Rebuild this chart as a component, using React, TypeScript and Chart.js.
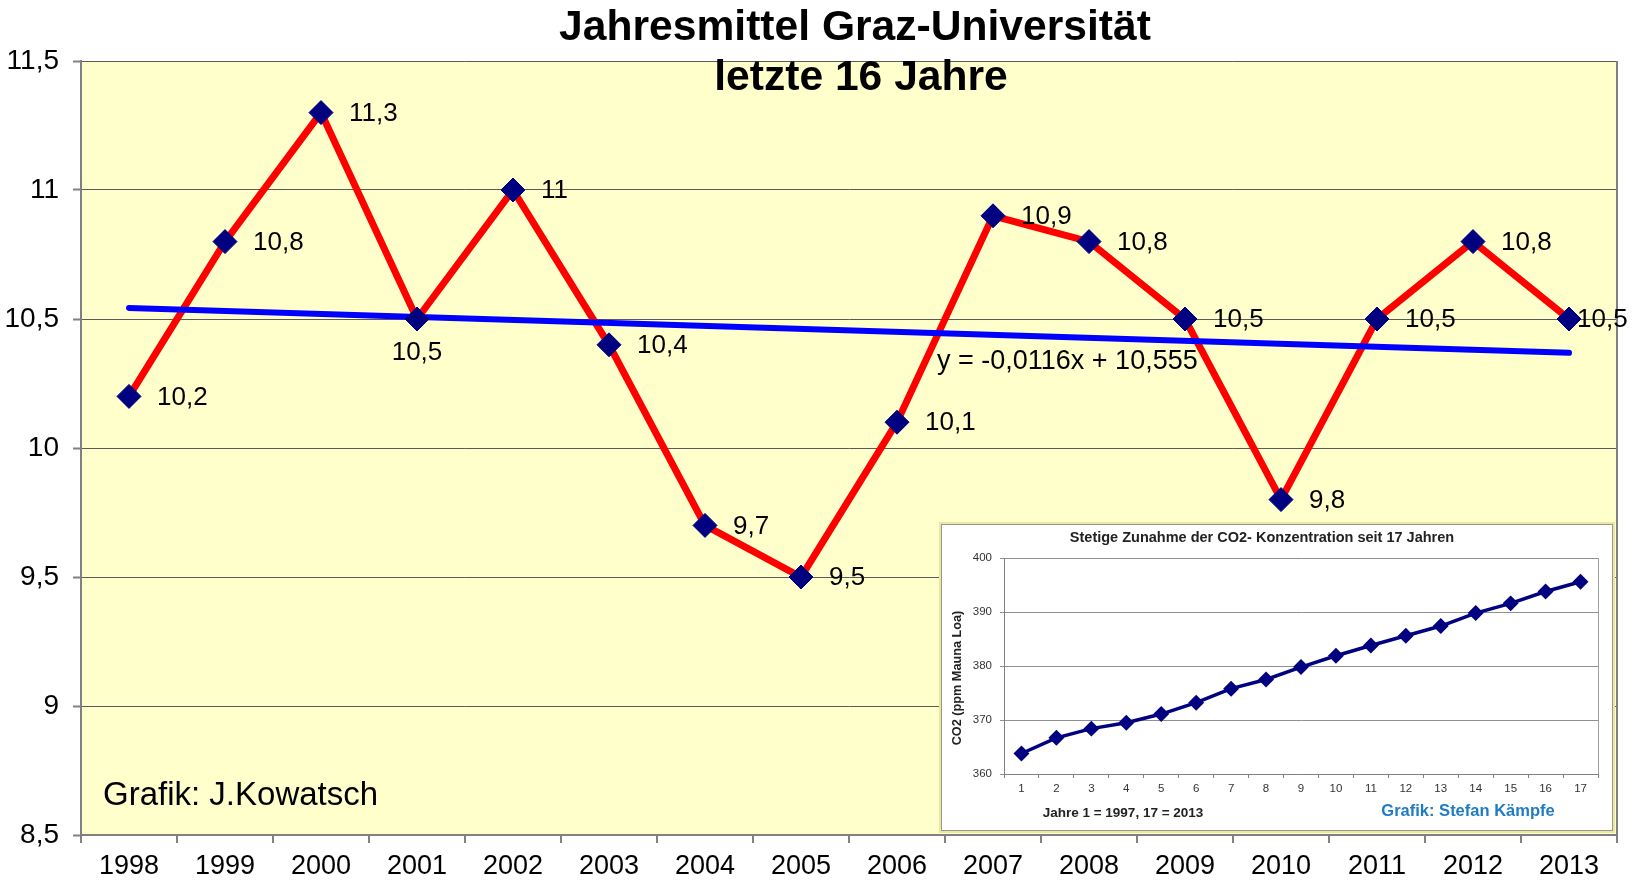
import React, { useEffect, useRef } from "react";
import { Chart, registerables } from "chart.js";

Chart.register(...registerables);

const FONT = "'Liberation Sans', Arial, Helvetica, sans-serif";
const NARROW = "'Liberation Sans Narrow', 'Liberation Sans', Arial, sans-serif";

// ---------- main chart data ----------
const years = ["1998", "1999", "2000", "2001", "2002", "2003", "2004", "2005", "2006", "2007", "2008", "2009", "2010", "2011", "2012", "2013"];
const temps = [10.2, 10.8, 11.3, 10.5, 11.0, 10.4, 9.7, 9.5, 10.1, 10.9, 10.8, 10.5, 9.8, 10.5, 10.8, 10.5];
// linear trend line: only its two end values, joined straight
const trend = [10.543, null, null, null, null, null, null, null, null, null, null, null, null, null, null, 10.369];
const labelPlacement = ["right", "right", "right", "below", "right", "right", "right", "right", "right", "right", "right", "right", "right", "right", "right", "tight"];
const titleLines = ["Jahresmittel Graz-Universität", "letzte 16 Jahre"];
const trendLabel = "y = -0,0116x + 10,555";
const mainCredit = "Grafik: J.Kowatsch";
const yMin = 8.5;
const yMax = 11.5;
const yStep = 0.5;

// ---------- inset chart data ----------
const co2Index = ["1", "2", "3", "4", "5", "6", "7", "8", "9", "10", "11", "12", "13", "14", "15", "16", "17"];
const co2Values = [363.8, 366.7, 368.4, 369.5, 371.1, 373.2, 375.8, 377.5, 379.8, 381.9, 383.8, 385.6, 387.4, 389.8, 391.6, 393.8, 395.6];
const insetTitle = "Stetige Zunahme der CO2- Konzentration seit 17 Jahren";
const insetYTitle = "CO2 (ppm Mauna Loa)";
const insetNote = "Jahre 1 = 1997, 17 = 2013";
const insetCredit = "Grafik: Stefan Kämpfe";
const co2Min = 360;
const co2Max = 400;
const co2Step = 10;

const fmt = (v: number) => String(v).replace(".", ",");

const mainBg = {
  id: "mainBg",
  beforeDraw(chart: any) {
    const { ctx, chartArea, width, height } = chart;
    ctx.save();
    ctx.fillStyle = "#ffffff";
    ctx.fillRect(0, 0, width, height);
    ctx.fillStyle = "#ffffcc";
    ctx.fillRect(chartArea.left, chartArea.top, chartArea.right - chartArea.left, chartArea.bottom - chartArea.top);
    ctx.restore();
  },
};

const mainOverlay = {
  id: "mainOverlay",
  afterDraw(chart: any) {
    const { ctx, chartArea, scales } = chart;
    const xs = scales.x;
    const ys = scales.y;
    ctx.save();
    // right frame
    ctx.strokeStyle = "#808080";
    ctx.lineWidth = 2;
    ctx.beginPath();
    ctx.moveTo(chartArea.right, chartArea.top);
    ctx.lineTo(chartArea.right, chartArea.bottom);
    ctx.stroke();

    // data labels
    ctx.fillStyle = "#000";
    ctx.font = `26px ${FONT}`;
    ctx.textBaseline = "middle";
    temps.forEach((v, i) => {
      const px = xs.getPixelForValue(i);
      const py = ys.getPixelForValue(v);
      const txt = fmt(v);
      const p = labelPlacement[i];
      if (p === "below") {
        ctx.textAlign = "center";
        ctx.fillText(txt, px, py + 34);
      } else if (p === "tight") {
        ctx.textAlign = "left";
        ctx.fillText(txt, px + 8, py + 1);
      } else {
        ctx.textAlign = "left";
        ctx.fillText(txt, px + 28, py + 1);
      }
    });

    // trend equation
    ctx.font = `27px ${FONT}`;
    ctx.textAlign = "left";
    ctx.fillText(trendLabel, xs.getPixelForValue(8) + 40, ys.getPixelForValue(10.44) + 27);

    // credit
    ctx.font = `33px ${FONT}`;
    ctx.fillText(mainCredit, chartArea.left + 22, chartArea.bottom - 39);

    // title
    ctx.font = `bold 42.6px ${FONT}`;
    ctx.textAlign = "center";
    ctx.textBaseline = "alphabetic";
    ctx.fillText(titleLines[0], 855, 40);
    ctx.fillText(titleLines[1], 861, 90);
    ctx.restore();
  },
};

const insetBg = {
  id: "insetBg",
  beforeDraw(chart: any) {
    const { ctx, width, height } = chart;
    ctx.save();
    ctx.fillStyle = "#ffffff";
    ctx.fillRect(0, 0, width, height);
    ctx.restore();
  },
};

const insetOverlay = {
  id: "insetOverlay",
  afterDraw(chart: any) {
    const { ctx, chartArea } = chart;
    ctx.save();
    ctx.strokeStyle = "#a0a0a0";
    ctx.lineWidth = 1;
    ctx.beginPath();
    ctx.moveTo(chartArea.right + 0.5, chartArea.top);
    ctx.lineTo(chartArea.right + 0.5, chartArea.bottom);
    ctx.stroke();

    ctx.fillStyle = "#222";
    ctx.textAlign = "center";
    ctx.textBaseline = "middle";
    ctx.font = `bold 14.5px ${NARROW}`;
    ctx.fillText(insetTitle, 320, 13);

    ctx.font = `bold 13.5px ${NARROW}`;
    ctx.fillText(insetNote, 181, 288);

    ctx.fillStyle = "#1f7bc4";
    ctx.font = `bold 16.5px ${FONT}`;
    ctx.fillText(insetCredit, 526, 286);

    ctx.fillStyle = "#222";
    ctx.font = `bold 12.7px ${FONT}`;
    ctx.translate(15, 153);
    ctx.rotate(-Math.PI / 2);
    ctx.fillText(insetYTitle, 0, 0);
    ctx.restore();
  },
};

export default function App() {
  const mainRef = useRef<HTMLCanvasElement | null>(null);
  const insetRef = useRef<HTMLCanvasElement | null>(null);

  useEffect(() => {
    if (!mainRef.current || !insetRef.current) return;
    const main = new Chart(mainRef.current, {
      type: "line",
      data: {
        labels: years,
        datasets: [
          {
            label: "Punkte",
            data: temps,
            showLine: false,
            pointStyle: "rectRot",
            pointRadius: 12,
            pointBackgroundColor: "#000080",
            pointBorderColor: "#000080",
            pointBorderWidth: 1,
          },
          {
            label: "Trend",
            data: trend,
            spanGaps: true,
            borderColor: "#0000ff",
            borderWidth: 6,
            pointRadius: 0,
            borderCapStyle: "round",
          },
          {
            label: "Jahresmittel",
            data: temps,
            borderColor: "#ff0000",
            borderWidth: 7,
            pointRadius: 0,
            tension: 0,
          },
        ],
      },
      options: {
        animation: false,
        responsive: false,
        events: [],
        layout: { padding: { left: 0, right: 19, top: 61, bottom: 0 } },
        plugins: { legend: { display: false }, title: { display: false }, tooltip: { enabled: false } },
        scales: {
          x: {
            type: "category",
            offset: true,
            grid: { display: true, drawOnChartArea: false, offset: true, tickLength: 8, color: "#808080", lineWidth: 2 },
            border: { color: "#808080", width: 2 },
            ticks: { color: "#000", font: { size: 27, family: FONT }, padding: 7, maxRotation: 0, autoSkip: false },
            afterFit: (s: any) => {
              s.height = 45;
            },
          },
          y: {
            min: yMin,
            max: yMax,
            grid: { color: "#5a5a5a", lineWidth: 1, tickLength: 8, tickColor: "#808080", tickWidth: 2 },
            border: { color: "#808080", width: 2 },
            ticks: {
              stepSize: yStep,
              color: "#000",
              font: { size: 28, family: FONT },
              padding: 14,
              callback: (v: any) => fmt(Number(v)),
            },
            afterFit: (s: any) => {
              s.width = 81;
            },
          },
        },
      },
      plugins: [mainBg, mainOverlay],
    } as any);

    const inset = new Chart(insetRef.current, {
      type: "line",
      data: {
        labels: co2Index,
        datasets: [
          {
            label: "CO2",
            data: co2Values,
            borderColor: "#000080",
            borderWidth: 3.5,
            pointStyle: "rectRot",
            pointRadius: 5.5,
            pointBackgroundColor: "#000080",
            pointBorderColor: "#000080",
            tension: 0,
          },
        ],
      },
      options: {
        animation: false,
        responsive: false,
        events: [],
        layout: { padding: { left: 0, right: 14, top: 33, bottom: 0 } },
        plugins: { legend: { display: false }, title: { display: false }, tooltip: { enabled: false } },
        scales: {
          x: {
            type: "category",
            offset: true,
            grid: { display: true, drawOnChartArea: false, offset: true, tickLength: 4, color: "#808080", lineWidth: 1 },
            border: { color: "#808080", width: 1 },
            ticks: { color: "#333", font: { size: 11.5, family: FONT }, padding: 4, maxRotation: 0, autoSkip: false },
            afterFit: (s: any) => {
              s.height = 56;
            },
          },
          y: {
            min: co2Min,
            max: co2Max,
            grid: { color: "#909090", lineWidth: 1, tickLength: 4 },
            border: { color: "#808080", width: 1 },
            ticks: { stepSize: co2Step, color: "#333", font: { size: 11.5, family: FONT }, padding: 8 },
            afterFit: (s: any) => {
              s.width = 62;
            },
          },
        },
      },
      plugins: [insetBg, insetOverlay],
    } as any);

    return () => {
      main.destroy();
      inset.destroy();
    };
  }, []);

  return (
    <div style={{ position: "absolute", left: 0, top: 0, width: 1636, height: 880, background: "#fff", overflow: "hidden" }}>
      <canvas ref={mainRef} width={1636} height={880} style={{ position: "absolute", left: 0, top: 0, width: 1636, height: 880 }} />
      <div
        style={{
          position: "absolute",
          left: 942,
          top: 525,
          width: 670,
          height: 305,
          boxShadow: "0 0 0 1px #9a9a80, 0 0 0 3px #e9e6a8",
          background: "#fff",
        }}
      >
        <canvas ref={insetRef} width={670} height={305} style={{ display: "block", width: 670, height: 305 }} />
      </div>
    </div>
  );
}
